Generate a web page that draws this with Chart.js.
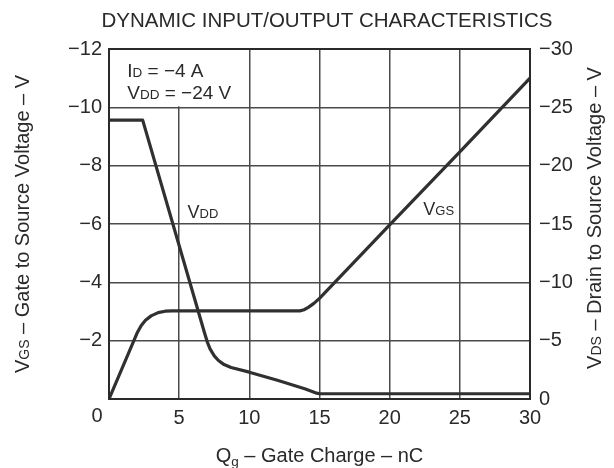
<!DOCTYPE html>
<html><head><meta charset="utf-8">
<script src="https://cdn.jsdelivr.net/npm/chart.js@4/dist/chart.umd.min.js"></script>
<style>html,body{margin:0;padding:0;background:#fff}#wrap{width:614px;height:468px}</style>
</head><body><div id="wrap"><canvas id="c" width="614" height="468"></canvas></div>
<script>
// Gate charge (nC) and V_GS (V) for the V_GS curve (left axis)
const vgsCharge = [0, 2.0, 2.3, 2.6, 3.0, 3.5, 4.0, 4.5, 13.6, 13.9, 14.2, 14.6, 15, 20, 25, 30];
const vgsValues = [0, -2.26, -2.52, -2.7, -2.85, -2.96, -3.01, -3.02, -3.02, -3.06, -3.14, -3.28, -3.45, -5.97, -8.47, -11.0];
// Gate charge (nC) and V_DS (V) for the V_DD curve (right axis)
const vdsCharge = [0, 2.4, 6.8, 7.0, 7.2, 7.5, 7.8, 8.2, 8.7, 10, 12, 14, 14.8, 15, 30];
const vdsValues = [-23.9, -23.9, -5.7, -4.9, -4.3, -3.7, -3.3, -2.95, -2.7, -2.3, -1.6, -0.85, -0.5, -0.45, -0.45];
const xTicks = [0, 5, 10, 15, 20, 25, 30];
const leftTicks = [-12, -10, -8, -6, -4, -2, 0];
const rightTicks = [-30, -25, -20, -15, -10, -5, 0];

const FONT = '"Liberation Sans", Arial, sans-serif';
const INK = '#2a2a2a';
const minus = v => (v < 0 ? '\u2212' + Math.abs(v) : String(v));

function drawRich(ctx, parts, x, y, align) {
  let w = 0;
  parts.forEach(p => { ctx.font = p[1] + 'px ' + FONT; w += ctx.measureText(p[0]).width; });
  let cx = align === 'center' ? x - w / 2 : x;
  ctx.textAlign = 'left'; ctx.textBaseline = 'alphabetic';
  parts.forEach(p => {
    ctx.font = p[1] + 'px ' + FONT;
    ctx.fillText(p[0], cx, y + (p[2] || 0));
    cx += ctx.measureText(p[0]).width;
  });
}

const deco = {
  id: 'deco',
  beforeDraw(chart) {
    const ctx = chart.ctx;
    ctx.save(); ctx.fillStyle = '#fff'; ctx.fillRect(0, 0, chart.width, chart.height); ctx.restore();
  },
  beforeDatasetsDraw(chart) {
    const ctx = chart.ctx, x = chart.scales.x, y = chart.scales.y;
    ctx.save();
    ctx.fillStyle = '#fff';
    const x0 = x.getPixelForValue(0) + 1, x1 = x.getPixelForValue(10) - 1;
    const y0 = y.getPixelForValue(-12) + 1, y1 = y.getPixelForValue(-10) - 1;
    ctx.fillRect(x0, y0, x1 - x0, y1 - y0);
    ctx.restore();
  },
  afterDraw(chart) {
    const ctx = chart.ctx, x = chart.scales.x, y = chart.scales.y, a = chart.chartArea;
    ctx.save();
    ctx.fillStyle = INK;
    ctx.font = '20.5px ' + FONT; ctx.textAlign = 'center'; ctx.textBaseline = 'alphabetic';
    ctx.fillText('DYNAMIC INPUT/OUTPUT CHARACTERISTICS', 327, 27);
    drawRich(ctx, [['I', 19], ['D', 13.5], [' = \u22124 A', 19]], x.getPixelForValue(1.3), y.getPixelForValue(-11.05), 'left');
    drawRich(ctx, [['V', 19], ['DD', 13.5], [' = \u221224 V', 19]], x.getPixelForValue(1.3), y.getPixelForValue(-10.3), 'left');
    drawRich(ctx, [['V', 18], ['DD', 13]], x.getPixelForValue(5.6), y.getPixelForValue(-6.2), 'left');
    drawRich(ctx, [['V', 18], ['GS', 13]], x.getPixelForValue(22.4), y.getPixelForValue(-6.3), 'left');
    ctx.font = '20px ' + FONT; ctx.textAlign = 'center'; ctx.textBaseline = 'top';
    ctx.fillText('0', a.left - 12, a.bottom + 7);
    drawRich(ctx, [['Q', 20], ['g', 13.5, 4], [' \u2013 Gate Charge \u2013 nC', 20]], (a.left + a.right) / 2, 462, 'center');
    ctx.save(); ctx.translate(29, (a.top + a.bottom) / 2); ctx.rotate(-Math.PI / 2);
    drawRich(ctx, [['V', 20], ['GS', 14], [' \u2013 Gate to Source Voltage \u2013 V', 20]], 0, 0, 'center');
    ctx.restore();
    ctx.save(); ctx.translate(601, (a.top + a.bottom) / 2 - 6); ctx.rotate(-Math.PI / 2);
    drawRich(ctx, [['V', 20], ['DS', 14], [' \u2013 Drain to Source Voltage \u2013 V', 20]], 0, 0, 'center');
    ctx.restore();
    ctx.strokeStyle = INK; ctx.lineWidth = 2;
    ctx.strokeRect(a.left, a.top, a.right - a.left, a.bottom - a.top);
    ctx.restore();
  }
};

const pts = (xs, ys) => xs.map((v, i) => ({ x: v, y: ys[i] }));

new Chart(document.getElementById('c'), {
  type: 'line',
  data: {
    datasets: [
      { label: 'VGS', data: pts(vgsCharge, vgsValues), yAxisID: 'y', borderColor: '#303030', borderWidth: 3.2, pointRadius: 0, tension: 0, borderJoinStyle: 'round', fill: false },
      { label: 'VDD', data: pts(vdsCharge, vdsValues), yAxisID: 'y1', borderColor: '#303030', borderWidth: 3.2, pointRadius: 0, tension: 0, borderJoinStyle: 'round', fill: false }
    ]
  },
  options: {
    responsive: false, animation: false,
    layout: { padding: { top: 49, left: 0, right: 0, bottom: 0 } },
    plugins: { legend: { display: false }, tooltip: { enabled: false }, title: { display: false } },
    scales: {
      x: {
        type: 'linear', min: 0, max: 30,
        afterBuildTicks: s => { s.ticks = xTicks.map(v => ({ value: v })); },
        afterFit: s => { s.height = 69; },
        ticks: { color: INK, font: { family: FONT, size: 20 }, padding: 7, callback: v => (v === 0 ? '' : String(v)), maxRotation: 0 },
        grid: { color: '#4a4a4a', lineWidth: 1.5, drawTicks: false },
        border: { display: false }
      },
      y: {
        position: 'left', reverse: true, min: -12, max: 0,
        afterBuildTicks: s => { s.ticks = leftTicks.map(v => ({ value: v })); },
        afterFit: s => { s.width = 109; },
        ticks: { color: INK, font: { family: FONT, size: 20 }, padding: 7, callback: v => (v === 0 ? '' : minus(v)) },
        grid: { color: '#4a4a4a', lineWidth: 1.5, drawTicks: false },
        border: { display: false }
      },
      y1: {
        position: 'right', reverse: true, min: -30, max: 0,
        afterBuildTicks: s => { s.ticks = rightTicks.map(v => ({ value: v })); },
        afterFit: s => { s.width = 84; },
        ticks: { color: INK, font: { family: FONT, size: 20 }, padding: 9, callback: v => minus(v) },
        grid: { display: false, drawTicks: false },
        border: { display: false }
      }
    }
  },
  plugins: [deco]
});
</script>
</body></html>
